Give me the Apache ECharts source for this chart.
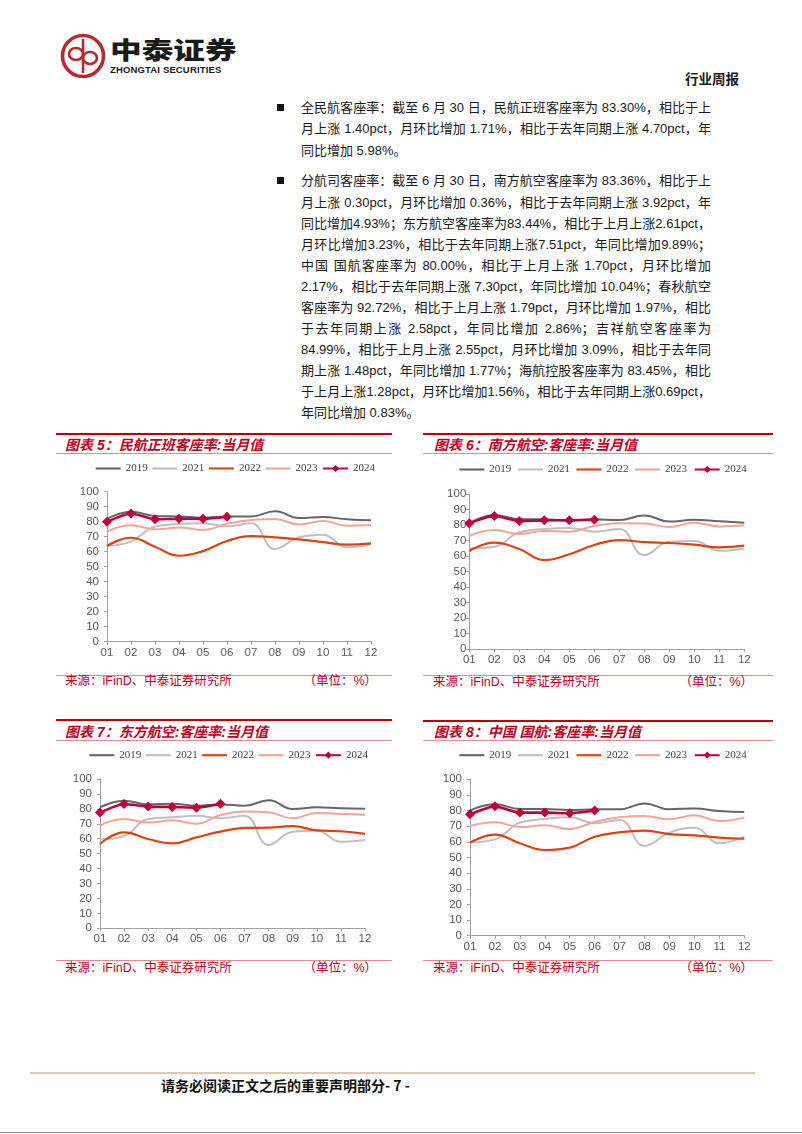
<!DOCTYPE html>
<html lang="zh-CN">
<head>
<meta charset="utf-8">
<script src="https://cdn.jsdelivr.net/npm/echarts@6/dist/echarts.min.js"></script>
<style>
  html,body{margin:0;padding:0;background:#fff;}
  #page{position:relative;width:802px;height:1134px;overflow:hidden;background:#fff;
        font-family:"Liberation Sans","Noto Sans CJK SC",sans-serif;}
  .abs{position:absolute;}
  .ln{position:absolute;left:301px;width:410px;height:21px;line-height:21px;font-size:13px;color:#1a1a1a;
      white-space:nowrap;text-align:justify;text-align-last:justify;}
  .ln.last{text-align-last:left;}
  .bullet{position:absolute;left:277px;width:7px;height:7px;background:#111;}
  .ctitle{position:absolute;height:20px;line-height:20px;font-size:14px;font-weight:bold;font-style:italic;
          color:#c0001f;white-space:nowrap;font-family:"Liberation Sans","Noto Sans CJK SC",sans-serif;}
  .thick{position:absolute;height:2px;background:#c00000;}
  .thin{position:absolute;height:1px;background:#e08a8a;}
  .src{position:absolute;height:18px;line-height:18px;font-size:12.5px;color:#c0001f;white-space:nowrap;}
  .chart{position:absolute;width:370px;height:210px;}
</style>
</head>
<body>
<div id="page">
  <!-- header -->
  <svg class="abs" style="left:60px;top:33px" width="46" height="46" viewBox="0 0 46 46">
    <circle cx="23" cy="23" r="20.5" fill="none" stroke="#b8282e" stroke-width="3.5"/>
    <line x1="23" y1="6" x2="23" y2="40" stroke="#b8282e" stroke-width="2.6"/>
    <ellipse cx="16" cy="21" rx="7" ry="6" fill="none" stroke="#b8282e" stroke-width="2.6"/>
    <ellipse cx="30" cy="25" rx="7" ry="6" fill="none" stroke="#b8282e" stroke-width="2.6"/>
  </svg>
  <div class="abs" style="left:110px;top:34px;height:30px;line-height:30px;font-size:24px;font-weight:900;color:#1a1a1a;font-family:'Noto Sans CJK SC',sans-serif;transform:scaleX(1.32);transform-origin:0 50%;white-space:nowrap;">中泰证券</div>
  <div class="abs" style="left:110px;top:64px;height:12px;line-height:12px;font-size:9.5px;font-weight:bold;color:#1a1a1a;letter-spacing:0.15px;white-space:nowrap;">ZHONGTAI SECURITIES</div>
  <div class="abs" style="left:685px;top:69px;height:18px;line-height:18px;font-size:13.5px;font-weight:bold;color:#1a1a1a;font-family:'Noto Sans CJK SC',sans-serif;white-space:nowrap;">行业周报</div>

  <!-- text block -->
  <div class="bullet" style="top:104px"></div>
  <div class="ln" style="top:97px">全民航客座率：截至 6 月 30 日，民航正班客座率为 83.30%，相比于上</div>
  <div class="ln" style="top:118px">月上涨 1.40pct，月环比增加 1.71%，相比于去年同期上涨 4.70pct，年</div>
  <div class="ln last" style="top:140px">同比增加 5.98%。</div>

  <div class="bullet" style="top:177px"></div>
  <div class="ln" style="top:170px">分航司客座率：截至 6 月 30 日，南方航空客座率为 83.36%，相比于上</div>
  <div class="ln" style="top:192px">月上涨 0.30pct，月环比增加 0.36%，相比于去年同期上涨 3.92pct，年</div>
  <div class="ln" style="top:213px">同比增加4.93%；东方航空客座率为83.44%，相比于上月上涨2.61pct，</div>
  <div class="ln" style="top:234px">月环比增加3.23%，相比于去年同期上涨7.51pct，年同比增加9.89%；</div>
  <div class="ln" style="top:255px">中国 国航客座率为 80.00%，相比于上月上涨 1.70pct，月环比增加</div>
  <div class="ln" style="top:276px">2.17%，相比于去年同期上涨 7.30pct，年同比增加 10.04%；春秋航空</div>
  <div class="ln" style="top:297px">客座率为 92.72%，相比于上月上涨 1.79pct，月环比增加 1.97%，相比</div>
  <div class="ln" style="top:318px">于去年同期上涨 2.58pct，年同比增加 2.86%；吉祥航空客座率为</div>
  <div class="ln" style="top:339px">84.99%，相比于上月上涨 2.55pct，月环比增加 3.09%，相比于去年同</div>
  <div class="ln" style="top:360px">期上涨 1.48pct，年同比增加 1.77%；海航控股客座率为 83.45%，相比</div>
  <div class="ln" style="top:381px">于上月上涨1.28pct，月环比增加1.56%，相比于去年同期上涨0.69pct，</div>
  <div class="ln last" style="top:402px">年同比增加 0.83%。</div>

  <!-- chart frames -->
  <div class="thick" style="left:56px;top:433px;width:336px"></div>
  <div class="ctitle" style="left:65px;top:435px">图表 5：民航正班客座率:当月值</div>
  <div class="thin" style="left:56px;top:453px;width:336px"></div>
  <div class="thin" style="left:56px;top:675px;width:336px"></div>
  <div class="src" style="left:65px;top:672px">来源：iFinD、中泰证券研究所</div>
  <div class="src" style="left:297px;top:672px;width:80px;text-align:right">（单位：%）</div>

  <div class="thick" style="left:423px;top:433px;width:350px"></div>
  <div class="ctitle" style="left:434px;top:435px">图表 6：南方航空:客座率:当月值</div>
  <div class="thin" style="left:423px;top:453px;width:350px"></div>
  <div class="thin" style="left:423px;top:675px;width:350px"></div>
  <div class="src" style="left:433px;top:673px">来源：iFinD、中泰证券研究所</div>
  <div class="src" style="left:673px;top:673px;width:80px;text-align:right">（单位：%）</div>

  <div class="thick" style="left:56px;top:719px;width:336px"></div>
  <div class="ctitle" style="left:65px;top:722px">图表 7：东方航空:客座率:当月值</div>
  <div class="thin" style="left:56px;top:740px;width:336px"></div>
  <div class="thin" style="left:56px;top:960px;width:336px"></div>
  <div class="src" style="left:65px;top:959px">来源：iFinD、中泰证券研究所</div>
  <div class="src" style="left:297px;top:959px;width:80px;text-align:right">（单位：%）</div>

  <div class="thick" style="left:423px;top:720px;width:350px"></div>
  <div class="ctitle" style="left:434px;top:722px">图表 8：中国 国航:客座率:当月值</div>
  <div class="thin" style="left:423px;top:740px;width:350px"></div>
  <div class="thin" style="left:423px;top:960px;width:350px"></div>
  <div class="src" style="left:433px;top:959px">来源：iFinD、中泰证券研究所</div>
  <div class="src" style="left:673px;top:959px;width:80px;text-align:right">（单位：%）</div>

  <div id="c1" class="chart" style="left:30px;top:460px"></div>
  <div id="c2" class="chart" style="left:410px;top:460px"></div>
  <div id="c3" class="chart" style="left:30px;top:745px"></div>
  <div id="c4" class="chart" style="left:410px;top:745px"></div>

  <!-- footer -->
  <div class="abs" style="left:30px;top:1072px;width:725px;height:2px;background:#e8c6ad"></div>
  <div class="abs" style="left:161px;top:1076px;height:18px;line-height:18px;font-size:14px;font-weight:bold;color:#111;font-family:'Noto Sans CJK SC',sans-serif;white-space:nowrap;">请务必阅读正文之后的重要声明部分- 7 -</div>
  <div class="abs" style="left:0;top:1132px;width:802px;height:1px;background:#8a8a8a"></div>
</div>

<script>
// ---------- data ----------
const months = ['01','02','03','04','05','06','07','08','09','10','11','12'];
const years = ['2019','2021','2022','2023','2024'];

// 图表5 民航正班客座率
const caac2019 = [81.8, 86.7, 83.8, 83.5, 82.7, 83.5, 83.5, 86.9, 82.4, 83.1, 81.6, 80.9];
const caac2021 = [64.0, 66.7, 76.7, 78.4, 79.0, 76.9, 78.9, 61.8, 69.6, 71.3, 62.9, 64.9];
const caac2022 = [63.8, 69.3, 63.3, 57.3, 60.4, 67.1, 70.4, 69.6, 68.2, 66.4, 64.7, 65.6];
const caac2023 = [73.3, 77.6, 74.9, 76.2, 74.4, 78.6, 81.1, 81.8, 78.2, 80.4, 77.3, 77.8];
const caac2024 = [80.0, 85.5, 81.6, 82.0, 81.9, 83.3];

// 图表6 南方航空
const csa2019 = [81.1, 86.5, 83.7, 83.7, 82.8, 83.7, 83.2, 86.2, 82.2, 83.4, 82.4, 81.5];
const csa2021 = [64.9, 66.0, 75.3, 77.4, 78.1, 75.7, 77.4, 60.6, 69.2, 69.7, 63.4, 64.9];
const csa2022 = [63.2, 68.6, 64.5, 57.4, 61.1, 67.1, 70.3, 69.0, 68.4, 67.3, 65.6, 66.7];
const csa2023 = [72.9, 76.8, 74.2, 76.1, 75.7, 79.4, 81.1, 80.9, 78.7, 81.5, 79.1, 79.6];
const csa2024 = [81.1, 85.8, 82.6, 83.0, 83.1, 83.4];

// 图表7 东方航空
const cea2019 = [81.0, 85.5, 83.0, 83.5, 82.1, 83.0, 82.1, 85.7, 79.9, 81.0, 80.4, 80.1];
const cea2021 = [59.6, 61.8, 73.2, 74.3, 75.4, 73.7, 75.4, 55.8, 64.7, 65.4, 58.0, 59.2];
const cea2022 = [56.5, 64.3, 59.8, 56.9, 60.9, 64.7, 67.2, 67.4, 68.5, 65.6, 65.0, 63.2];
const cea2023 = [68.8, 73.2, 70.8, 72.3, 70.1, 75.9, 78.3, 77.7, 73.7, 77.2, 76.6, 76.1];
const cea2024 = [77.5, 83.3, 81.5, 81.3, 80.8, 83.4];

// 图表8 中国国航
const ca2019 = [80.0, 84.0, 81.0, 81.0, 80.4, 80.8, 80.8, 84.6, 80.8, 81.4, 79.7, 79.1];
const ca2021 = [59.7, 61.6, 72.3, 74.6, 75.7, 71.9, 74.0, 57.4, 65.9, 69.1, 59.1, 63.3];
const ca2022 = [59.5, 64.6, 59.1, 54.8, 56.3, 63.3, 66.1, 67.2, 65.0, 64.2, 62.7, 62.0];
const ca2023 = [70.1, 72.5, 69.5, 70.6, 68.2, 72.7, 75.7, 76.5, 74.4, 77.0, 73.3, 75.5];
const ca2024 = [77.6, 82.7, 78.7, 78.7, 78.3, 80.0];

const yMin = 0, yMax = 100, yStep = 10;

// ---------- styles ----------
const colors = {'2019':'#666666','2021':'#bfbfbf','2022':'#e0420e','2023':'#f5a493','2024':'#c0003a'};
const widths = {'2019':2,'2021':2,'2022':2.2,'2023':2,'2024':2.6};
const lineIcon = 'path://M0,0H26V2.2H0Z';

function build(id, seriesData, g) {
  const chart = echarts.init(document.getElementById(id), null, {renderer:'canvas'});
  const series = years.map((y, i) => {
    const is24 = y === '2024';
    return {
      name: y, type: 'line', data: seriesData[i],
      smooth: is24 ? 0.2 : 0.45,
      symbol: is24 ? 'diamond' : 'none',
      symbolSize: is24 ? 10 : 0,
      showSymbol: is24,
      lineStyle: {color: colors[y], width: widths[y]},
      itemStyle: {color: colors[y]},
      z: 2 + i
    };
  });
  chart.setOption({
    animation: false,
    legend: {
      data: years.map(y => y === '2024' ? {name: y} : {name: y, icon: lineIcon}),
      left: g.legendLeft, top: g.legendTop, padding: 0,
      itemWidth: 25, itemHeight: 9, itemGap: g.legendGap,
      textStyle: {fontFamily: '"Liberation Serif", serif', fontSize: 11, color: '#444'}
    },
    grid: {left: g.left, right: g.right, top: g.top, bottom: g.bottom, containLabel: false},
    xAxis: {
      type: 'category', data: months, boundaryGap: false,
      axisLine: {lineStyle: {color: '#a0a0a0', width: 1}},
      axisTick: {show: true, length: 3, lineStyle: {color: '#a0a0a0'}},
      axisLabel: {color: '#595959', fontSize: 11.5, margin: g.xMargin, fontFamily: '"Liberation Sans", Arial'}
    },
    yAxis: {
      type: 'value', min: yMin, max: yMax, interval: yStep,
      axisLine: {show: true, lineStyle: {color: '#a0a0a0', width: 1}},
      axisTick: {show: true, length: 3, lineStyle: {color: '#a0a0a0'}},
      splitLine: {show: false},
      axisLabel: {color: '#595959', fontSize: 11.5, margin: g.yMargin, fontFamily: '"Liberation Sans", Arial'}
    },
    series: series
  });
}

build('c1', [caac2019, caac2021, caac2022, caac2023, caac2024],
  {left: 77, right: 29, top: 31.7, bottom: 28.3, legendLeft: 65.7, legendTop: 3, legendGap: 4.6, xMargin: 5, yMargin: 8});
build('c2', [csa2019, csa2021, csa2022, csa2023, csa2024],
  {left: 59.3, right: 35.7, top: 34, bottom: 21, legendLeft: 49.3, legendTop: 4, legendGap: 6.6, xMargin: 5, yMargin: 3});
build('c3', [cea2019, cea2021, cea2022, cea2023, cea2024],
  {left: 70, right: 35, top: 34, bottom: 26.7, legendLeft: 59.3, legendTop: 4.7, legendGap: 4.4, xMargin: 5, yMargin: 8});
build('c4', [ca2019, ca2021, ca2022, ca2023, ca2024],
  {left: 60, right: 35.7, top: 34.3, bottom: 19.3, legendLeft: 49.3, legendTop: 4.7, legendGap: 6.6, xMargin: 5, yMargin: 8});
</script>
</body>
</html>
